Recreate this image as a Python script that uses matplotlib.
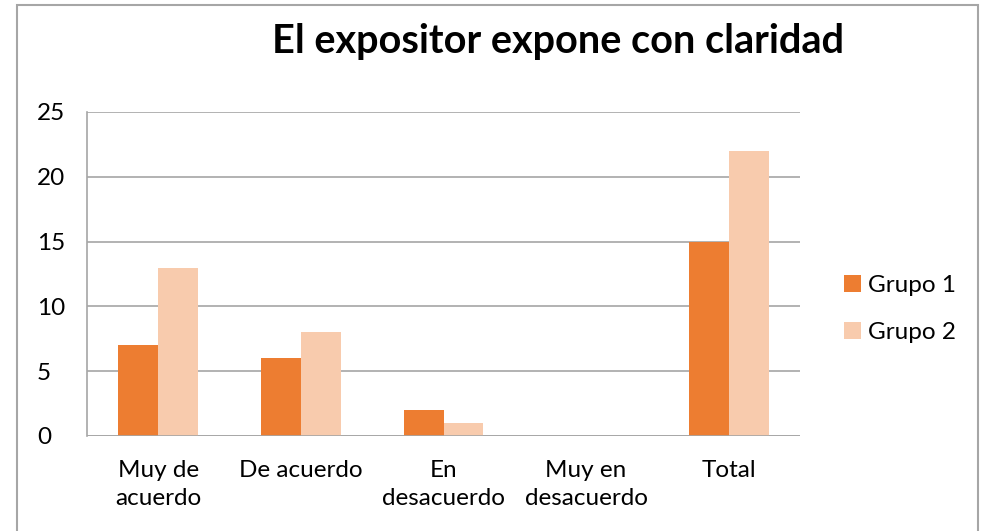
import numpy as np
import matplotlib.pyplot as plt
from matplotlib.patches import Rectangle

categories = ["Muy de\nacuerdo", "De acuerdo", "En\ndesacuerdo", "Muy en\ndesacuerdo", "Total"]
grupo1 = [7, 6, 2, 0, 15]
grupo2 = [13, 8, 1, 0, 22]
series_labels = ["Grupo 1", "Grupo 2"]
colors = ["#ED7D31", "#F8CBAD"]

plt.rcParams['font.family'] = ['Lato', 'DejaVu Sans']

W, H = 986, 531
fig = plt.figure(figsize=(W / 100, H / 100), dpi=100)

# chart area border (open at the bottom, as in the reference)
fig.patches.append(Rectangle((17 / W, -0.05), (978 - 17) / W, (H - 5) / H + 0.05,
                             transform=fig.transFigure, fill=False,
                             edgecolor="#A6A6A6", linewidth=1.5))

ax = fig.add_axes([87 / W, (H - 436) / H, (800 - 87) / W, (436 - 112) / H])

x = np.arange(len(categories))
bar_w = 0.28
ax.bar(x - bar_w / 2, grupo1, width=bar_w, color=colors[0], label=series_labels[0], zorder=3)
ax.bar(x + bar_w / 2, grupo2, width=bar_w, color=colors[1], label=series_labels[1], zorder=3)

ax.set_xlim(-0.5, len(categories) - 0.5)
ax.set_ylim(0, 25)
ax.set_yticks(range(0, 26, 5))
ax.yaxis.grid(True, color="#A6A6A6", linewidth=1.2, zorder=0)
ax.set_xticks(x)
ax.set_xticklabels(categories, fontsize=17.5, linespacing=1.45)
ax.tick_params(axis='y', labelsize=17.5, length=0, pad=36)
ax.tick_params(axis='x', length=0, pad=17)
for lab in ax.get_yticklabels():
    lab.set_horizontalalignment('left')
for side in ["top", "right", "bottom"]:
    ax.spines[side].set_visible(False)
ax.spines["left"].set_color("#A6A6A6")
ax.spines["left"].set_linewidth(1.2)
ax.axhline(0, color="#A6A6A6", linewidth=1.2, zorder=4)

fig.text(558 / W, 1 - 41 / H, "El expositor expone con claridad", ha="center", va="center",
         fontsize=28.5, fontweight="bold")

ax.legend(loc="center left", bbox_to_anchor=(822 / W, 1 - 309 / H), bbox_transform=fig.transFigure,
          frameon=False, fontsize=17.5, handlelength=0.7, handleheight=0.7,
          handletextpad=0.3, labelspacing=1.1)

fig.savefig("out.png", dpi=100)
